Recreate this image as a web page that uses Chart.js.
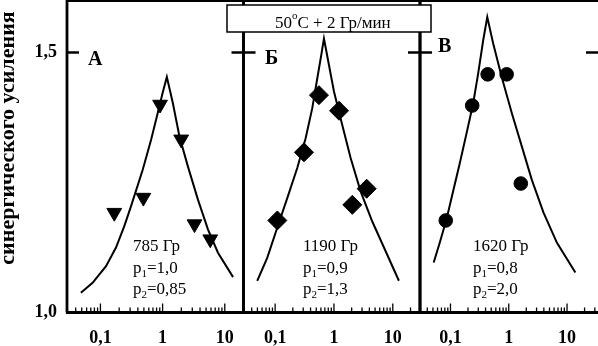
<!DOCTYPE html>
<html>
<head>
<meta charset="utf-8">
<script src="https://cdn.jsdelivr.net/npm/chart.js@4"></script>
<style>
  body { margin: 0; background: #fff; }
  #wrap { position: relative; width: 598px; height: 346px; }
  #wrap canvas { position: absolute; left: 0; top: 0; }
</style>
</head>
<body>
<div id="wrap">
  <canvas id="panelA" width="598" height="346"></canvas>
  <canvas id="panelB" width="598" height="346"></canvas>
  <canvas id="panelC" width="598" height="346"></canvas>
</div>
<script>
// axis ticks and labels
const xTickValues = [0.1, 1, 10];
const xTickLabels = ['0,1', '1', '10'];
const yTickValues = [1.0, 1.5];
const yTickLabels = ['1,0', '1,5'];
const yTitle = 'синергического усиления';
const boxTitle = ['50', 'o', 'C + 2 Гр/мин'];

// panel texts
const panelLetters = ['А', 'Б', 'В'];
const panelDose = ['785 Гр', '1190 Гр', '1620 Гр'];
const panelP1 = ['1,0', '0,9', '0,8'];
const panelP2 = ['0,85', '1,3', '2,0'];

// panel A: measured points (triangles) and model curve
const markA_x = [0.167, 0.49, 0.91, 1.99, 3.26, 5.84];
const markA_y = [1.192, 1.221, 1.400, 1.333, 1.170, 1.141];
const curveA_x = [0.0485, 0.0748, 0.123, 0.178, 0.242, 0.31, 0.48, 0.653, 0.837, 1.0, 1.17, 1.46, 1.87, 2.55, 3.7, 5.36, 7.77, 13.6];
const curveA_y = [1.038, 1.057, 1.089, 1.125, 1.166, 1.204, 1.275, 1.332, 1.384, 1.422, 1.453, 1.403, 1.338, 1.281, 1.217, 1.16, 1.115, 1.068];

// panel B: diamonds
const markB_x = [0.109, 0.309, 0.556, 1.22, 2.05, 3.6];
const markB_y = [1.177, 1.308, 1.418, 1.388, 1.207, 1.238];
const curveB_x = [0.0496, 0.0734, 0.1086, 0.1607, 0.2377, 0.33, 0.428, 0.52, 0.608, 0.676, 0.822, 1.0, 1.38, 1.92, 2.84, 4.48, 7.08, 12.7];
const curveB_y = [1.061, 1.105, 1.163, 1.22, 1.278, 1.335, 1.393, 1.45, 1.495, 1.527, 1.476, 1.425, 1.361, 1.297, 1.233, 1.175, 1.125, 1.061];

// panel C: circles
const markC_x = [0.083, 0.236, 0.435, 0.92, 1.61];
const markC_y = [1.177, 1.398, 1.458, 1.458, 1.248];
const curveC_x = [0.0515, 0.0654, 0.0853, 0.111, 0.1445, 0.189, 0.245, 0.299, 0.365, 0.428, 0.542, 0.757, 1.13, 1.68, 2.49, 3.95, 6.72, 13.9];
const curveC_y = [1.096, 1.134, 1.179, 1.233, 1.287, 1.345, 1.402, 1.46, 1.524, 1.568, 1.517, 1.453, 1.383, 1.319, 1.255, 1.192, 1.134, 1.077];

const SERIF = "'Liberation Serif', 'Times New Roman', serif";
Chart.defaults.font.family = SERIF;
Chart.defaults.color = '#000';

const pairs = (xs, ys) => xs.map((x, i) => ({ x: x, y: ys[i] }));

function logTicks(min, max) {
  const out = [];
  for (let e = -2; e <= 1; e++) {
    for (let m = 1; m <= 9; m++) {
      const v = +(m * Math.pow(10, e)).toPrecision(3);
      if (v >= min && v <= max) out.push({ value: v });
    }
  }
  return out;
}

function labelFor(values, labels, v) {
  const i = values.findIndex(t => Math.abs(t - v) < 1e-9);
  return i < 0 ? '' : labels[i];
}

// text with a sub/superscript piece in the middle
function drawScripted(ctx, x, y, parts, size, small, shift) {
  ctx.font = size + 'px ' + SERIF;
  ctx.fillText(parts[0], x, y);
  x += ctx.measureText(parts[0]).width;
  ctx.font = small + 'px ' + SERIF;
  ctx.fillText(parts[1], x, y + shift);
  x += ctx.measureText(parts[1]).width;
  ctx.font = size + 'px ' + SERIF;
  ctx.fillText(parts[2], x, y);
}

const panelFrame = {
  id: 'panelFrame',
  afterDatasetsDraw(chart, args, o) {
    const { ctx, chartArea: a, scales: { x, y } } = chart;
    ctx.save();
    ctx.strokeStyle = '#000';
    ctx.fillStyle = '#000';

    // log minor/major ticks pointing up from the bottom axis
    ctx.lineWidth = 1.3;
    x.ticks.forEach(t => {
      const px = x.getPixelForValue(t.value);
      if (px < a.left + 3 || px > a.right - 3) return;
      const lg = Math.log10(t.value);
      const major = Math.abs(lg - Math.round(lg)) < 1e-6;
      ctx.beginPath();
      ctx.moveTo(px, a.bottom);
      ctx.lineTo(px, a.bottom - (major ? 9 : 5));
      ctx.stroke();
    });

    // inward tick at 1,5 on both sides
    ctx.lineWidth = 2.5;
    const py = y.getPixelForValue(yTickValues[1]);
    ctx.beginPath();
    ctx.moveTo(a.left, py); ctx.lineTo(a.left + 12, py);
    ctx.moveTo(a.right, py); ctx.lineTo(a.right - 12, py);
    ctx.stroke();

    // frame
    ctx.lineWidth = 2.8;
    ctx.beginPath();
    ctx.moveTo(a.left, a.bottom);
    ctx.lineTo(a.left, a.top);
    ctx.lineTo(a.right, a.top);
    if (o.rightLine) ctx.lineTo(a.right, a.bottom);
    ctx.moveTo(a.left - 1, a.bottom);
    ctx.lineTo(a.right, a.bottom);
    ctx.stroke();

    // panel letter and fit parameters
    const i = o.index;
    ctx.textBaseline = 'alphabetic';
    ctx.textAlign = 'left';
    ctx.font = 'bold 20px ' + SERIF;
    ctx.fillText(panelLetters[i], o.letter[0], o.letter[1]);
    ctx.font = '17px ' + SERIF;
    ctx.fillText(panelDose[i], o.text[0], o.text[1]);
    drawScripted(ctx, o.text[0], o.text[1] + 22, ['p', '1', '=' + panelP1[i]], 17, 11, 4);
    drawScripted(ctx, o.text[0], o.text[1] + 43, ['p', '2', '=' + panelP2[i]], 17, 11, 4);

    if (o.yTitle) {
      ctx.save();
      ctx.translate(14, 138);
      ctx.rotate(-Math.PI / 2);
      ctx.textAlign = 'center';
      ctx.font = 'bold 22px ' + SERIF;
      ctx.fillText(yTitle, 0, 0);
      ctx.restore();
    }

    if (o.titleBox) {
      const [bx, by, bw, bh] = o.titleBox;
      ctx.fillStyle = '#fff';
      ctx.fillRect(bx, by, bw, bh);
      ctx.lineWidth = 1.5;
      ctx.strokeRect(bx, by, bw, bh);
      ctx.fillStyle = '#000';
      drawScripted(ctx, 275, 27.5, boxTitle, 17, 11, -9);
    }
    ctx.restore();
  }
};

function makePanel(id, curve, marks, markStyle, markRadius, xMin, xMax, pad, showY, frameOpts) {
  return new Chart(document.getElementById(id), {
    type: 'scatter',
    data: {
      datasets: [
        {
          data: curve,
          showLine: true,
          borderColor: '#000',
          borderWidth: 2,
          pointRadius: 0,
          tension: 0
        },
        {
          data: marks,
          showLine: false,
          pointStyle: markStyle,
          rotation: markStyle === 'triangle' ? 180 : 0,
          pointRadius: markRadius,
          pointBackgroundColor: '#000',
          pointBorderColor: '#000',
          pointBorderWidth: 1
        }
      ]
    },
    options: {
      responsive: false,
      animation: false,
      events: [],
      layout: { padding: pad, autoPadding: false },
      plugins: {
        legend: { display: false },
        tooltip: { enabled: false },
        panelFrame: frameOpts
      },
      scales: {
        x: {
          type: 'logarithmic',
          min: xMin,
          max: xMax,
          grid: { display: false, drawTicks: false },
          border: { display: false },
          afterBuildTicks: s => { s.ticks = logTicks(s.min, s.max); },
          afterFit: s => { s.height = 33.5; s.paddingLeft = 0; s.paddingRight = 0; },
          ticks: {
            autoSkip: false,
            maxRotation: 0,
            minRotation: 0,
            padding: 15,
            font: { size: 18, weight: 'bold' },
            callback: v => labelFor(xTickValues, xTickLabels, v)
          }
        },
        y: {
          display: showY,
          min: 1.0,
          max: 1.6,
          grid: { display: false, drawTicks: false },
          border: { display: false },
          afterBuildTicks: s => { s.ticks = yTickValues.map(v => ({ value: v })); },
          afterFit: s => { s.width = showY ? 67 : 0; s.paddingTop = 0; s.paddingBottom = 0; },
          ticks: {
            padding: 10,
            font: { size: 18, weight: 'bold' },
            callback: v => labelFor(yTickValues, yTickLabels, v)
          }
        }
      }
    },
    plugins: [panelFrame]
  });
}

makePanel('panelA', pairs(curveA_x, curveA_y), pairs(markA_x, markA_y), 'triangle', 8.5,
  0.029, 20, { left: 0, right: 354.5, top: 0.5, bottom: 0 }, true,
  { index: 0, letter: [88, 65], text: [133, 251], rightLine: true, yTitle: true });

makePanel('panelB', pairs(curveB_x, curveB_y), pairs(markB_x, markB_y), 'rectRot', 9.5,
  0.029, 29, { left: 243.5, right: 178, top: 0.5, bottom: 0 }, false,
  { index: 1, letter: [265, 64], text: [303, 251], rightLine: true });

makePanel('panelC', pairs(curveC_x, curveC_y), pairs(markC_x, markC_y), 'circle', 6.8,
  0.03, 34, { left: 420, right: 0, top: 0.5, bottom: 0 }, false,
  { index: 2, letter: [438, 52], text: [473, 251], rightLine: false, titleBox: [227, 5, 204, 27] });
</script>
</body>
</html>
